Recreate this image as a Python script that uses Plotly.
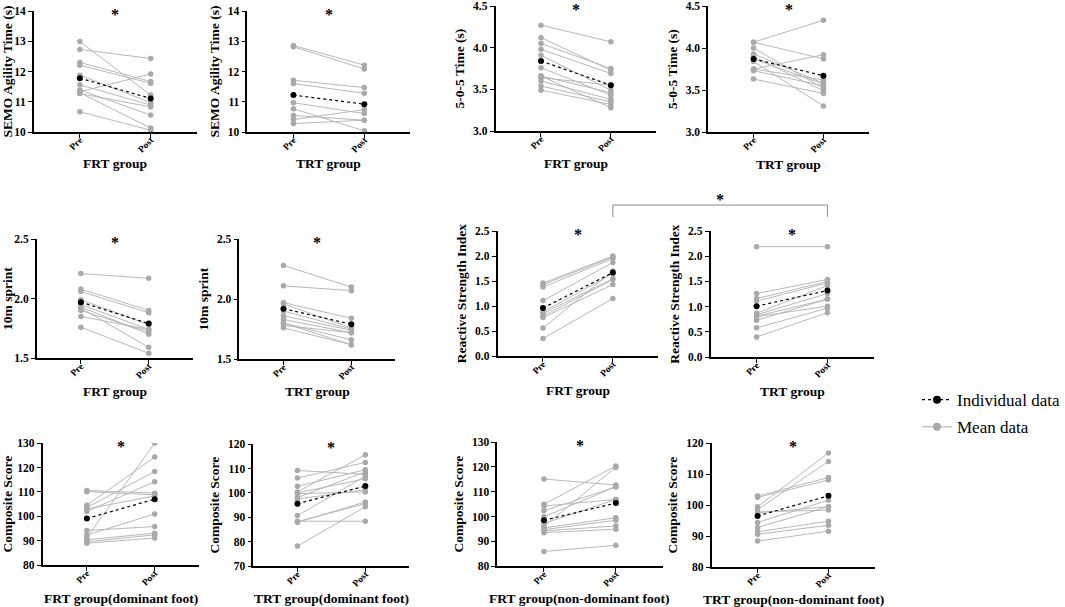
import plotly.graph_objects as go

times = ["Pre", "Post"]

# SEMO agility time (s)
semo_frt_pre = [12.99, 12.73, 12.30, 12.21, 11.88, 11.56, 11.39, 11.33, 11.30, 11.27, 10.67]
semo_frt_post = [11.22, 12.43, 11.67, 11.61, 10.97, 10.89, 10.56, 11.92, 10.13, 10.83, 10.06]
semo_frt_mean = [11.78, 11.11]
semo_trt_pre = [12.86, 12.82, 11.71, 11.60, 10.97, 10.77, 10.55, 10.41, 10.28]
semo_trt_post = [12.21, 12.08, 11.47, 11.28, 10.61, 10.04, 10.39, 10.74, 10.39]
semo_trt_mean = [11.22, 10.92]

# 5-0-5 time (s)
t505_frt_pre = [4.27, 4.12, 4.05, 3.98, 3.91, 3.76, 3.66, 3.64, 3.60, 3.54, 3.49, 3.66]
t505_frt_post = [4.07, 3.73, 3.75, 3.69, 3.49, 3.43, 3.46, 3.55, 3.38, 3.35, 3.32, 3.28]
t505_frt_mean = [3.84, 3.55]
t505_trt_pre = [4.07, 4.07, 4.00, 3.93, 3.90, 3.84, 3.75, 3.73, 3.75, 3.63, 3.87]
t505_trt_post = [4.33, 3.87, 3.52, 3.58, 3.49, 3.31, 3.92, 3.55, 3.62, 3.46, 3.57]
t505_trt_mean = [3.87, 3.67]

# 10 m sprint
sprint_frt_pre = [2.21, 2.08, 2.06, 1.99, 1.95, 1.92, 1.90, 1.85, 1.93, 1.76]
sprint_frt_post = [2.17, 1.90, 1.88, 1.78, 1.74, 1.59, 1.72, 1.74, 1.70, 1.54]
sprint_frt_mean = [1.97, 1.79]
sprint_trt_pre = [2.28, 2.11, 1.97, 1.96, 1.90, 1.86, 1.83, 1.80, 1.78, 1.76, 1.80]
sprint_trt_post = [2.10, 2.07, 1.84, 1.76, 1.75, 1.74, 1.72, 1.66, 1.72, 1.62, 1.62]
sprint_trt_mean = [1.92, 1.79]

# Reactive strength index
rsi_frt_pre = [1.46, 1.43, 1.38, 1.11, 0.88, 0.85, 0.80, 0.77, 0.56, 0.35]
rsi_frt_post = [2.00, 1.98, 1.95, 1.87, 1.65, 1.55, 1.53, 1.43, 1.70, 1.15]
rsi_frt_mean = [0.96, 1.67]
rsi_trt_pre = [2.19, 1.26, 1.16, 1.11, 0.87, 0.84, 0.81, 0.73, 0.58, 0.40, 0.80]
rsi_trt_post = [2.19, 1.54, 1.50, 1.47, 1.42, 1.26, 1.15, 1.15, 0.97, 0.88, 1.01]
rsi_trt_mean = [1.01, 1.32]

# Composite score
cs_frt_dom_pre = [110.6, 110.1, 104.5, 103.6, 103.0, 102.0, 91.3, 94.2, 92.3, 90.4, 89.6, 89.0]
cs_frt_dom_post = [109.5, 108.8, 124.3, 118.4, 108.4, 114.2, 130.0, 95.8, 101.0, 93.1, 92.4, 91.1]
cs_frt_dom_mean = [99.1, 107.0]
cs_trt_dom_pre = [109.2, 106.1, 102.7, 100.4, 99.7, 98.1, 90.7, 88.4, 88.0, 78.2, 97.5, 100.0, 88.2]
cs_trt_dom_post = [107.6, 112.5, 109.5, 115.6, 100.4, 108.6, 106.8, 88.4, 96.3, 94.3, 101.3, 105.8, 95.6]
cs_trt_dom_mean = [95.6, 102.8]
cs_frt_nd_pre = [115.1, 104.9, 104.2, 102.3, 99.9, 96.0, 97.2, 95.4, 94.7, 94.2, 93.5, 85.9]
cs_frt_nd_post = [112.7, 120.4, 106.9, 112.0, 112.0, 119.9, 106.9, 99.5, 98.5, 96.2, 94.9, 88.4]
cs_frt_nd_mean = [98.5, 105.4]
cs_trt_nd_pre = [102.9, 102.5, 99.5, 98.6, 97.8, 94.4, 92.8, 91.4, 90.6, 88.4, 97.5]
cs_trt_nd_post = [108.9, 108.1, 116.8, 114.1, 98.4, 101.6, 99.5, 94.8, 93.5, 91.6, 99.5]
cs_trt_nd_mean = [96.5, 103.0]

panels = [
    (semo_frt_pre, semo_frt_post, semo_frt_mean, "SEMO Agility Time (s)", "FRT group", [10, 14], 1),
    (semo_trt_pre, semo_trt_post, semo_trt_mean, "SEMO Agility Time (s)", "TRT group", [10, 14], 1),
    (t505_frt_pre, t505_frt_post, t505_frt_mean, "5-0-5 Time (s)", "FRT group", [3, 4.5], 0.5),
    (t505_trt_pre, t505_trt_post, t505_trt_mean, "5-0-5 Time (s)", "TRT group", [3, 4.5], 0.5),
    (sprint_frt_pre, sprint_frt_post, sprint_frt_mean, "10m sprint", "FRT group", [1.5, 2.5], 0.5),
    (sprint_trt_pre, sprint_trt_post, sprint_trt_mean, "10m sprint", "TRT group", [1.5, 2.5], 0.5),
    (rsi_frt_pre, rsi_frt_post, rsi_frt_mean, "Reactive Strength Index", "FRT group", [0, 2.5], 0.5),
    (rsi_trt_pre, rsi_trt_post, rsi_trt_mean, "Reactive Strength Index", "TRT group", [0, 2.5], 0.5),
    (cs_frt_dom_pre, cs_frt_dom_post, cs_frt_dom_mean, "Composite Score", "FRT group(dominant foot)", [80, 130], 10),
    (cs_trt_dom_pre, cs_trt_dom_post, cs_trt_dom_mean, "Composite Score", "TRT group(dominant foot)", [70, 120], 10),
    (cs_frt_nd_pre, cs_frt_nd_post, cs_frt_nd_mean, "Composite Score", "FRT group(non-dominant foot)", [80, 130], 10),
    (cs_trt_nd_pre, cs_trt_nd_post, cs_trt_nd_mean, "Composite Score", "TRT group(non-dominant foot)", [80, 120], 10),
]

# pixel layout: pre x, post x, top y, bottom y, x-title y
boxes = [
    (79, 150, 11, 132, 163), (293, 364, 11, 132, 163), (541, 611, 6, 131, 163), (754, 824, 6, 132, 164),
    (80, 148, 239, 358, 391), (283, 351, 239, 359, 391), (543, 613, 231, 356, 390), (757, 828, 231, 357, 391),
    (86, 154, 443, 565, 598), (297, 365, 444, 566, 598), (544, 616, 442, 566, 598), (758, 829, 443, 567, 599),
]

W, H = 1065, 607
PAD = 0.65
FONT = '"Liberation Serif", "Times New Roman", serif'
GREY = "#a9a9a9"
LINE_GREY = "#b8b8b8"


def py(y):
    # pixel row -> paper y (small correction for how the page gets photographed)
    return 1 - ((y - 6) / 0.98) / H


fig = go.Figure()
layout = {}
annotations = []

for i, (pre, post, mean, ytitle, xtitle, yr, dt) in enumerate(panels):
    n = i + 1
    sfx = "" if n == 1 else str(n)
    px0, px1, top, bot, ty = boxes[i]
    u = px1 - px0
    dom = [(px0 - PAD * u) / W, (px1 + PAD * u) / W]
    ydom = [py(bot), min(1, py(top))]

    for a, b in zip(pre, post):
        fig.add_trace(go.Scatter(
            x=times, y=[a, b], mode="lines+markers", xaxis="x" + sfx, yaxis="y" + sfx,
            line=dict(color=LINE_GREY, width=1), marker=dict(color=GREY, size=5.5),
            showlegend=False, hoverinfo="y"))
    fig.add_trace(go.Scatter(
        x=times, y=mean, mode="lines+markers", xaxis="x" + sfx, yaxis="y" + sfx,
        line=dict(color="black", width=1.2, dash="dot"), marker=dict(color="black", size=6),
        showlegend=False, hoverinfo="y"))

    layout["xaxis" + sfx] = dict(
        domain=dom, anchor="y" + sfx, type="category", range=[-PAD, 1 + PAD],
        showline=True, linecolor="black", linewidth=1.6, ticks="outside", ticklen=4,
        tickcolor="black", tickangle=-45, showgrid=False, zeroline=False,
        ticklabelstandoff=-7,
        tickfont=dict(family=FONT, size=9.5, color="black", weight="bold"))
    layout["yaxis" + sfx] = dict(
        domain=ydom, anchor="x" + sfx, range=yr, dtick=dt,
        tickformat="d" if dt >= 1 else ".1f",
        showline=True, linecolor="black", linewidth=1.6, ticks="outside", ticklen=4,
        tickcolor="black", showgrid=False, zeroline=False,
        tickfont=dict(family=FONT, size=11.5, color="black", weight="bold"),
        title=dict(text=ytitle, standoff=5,
                   font=dict(family=FONT, size=13.5, color="black", weight="bold")))
    annotations.append(dict(
        x=0.5, y=0.97, xref="x" + sfx, yref="y" + sfx + " domain", text="*",
        xanchor="center", yanchor="middle", showarrow=False,
        font=dict(family=FONT, size=16, color="black", weight="bold")))
    annotations.append(dict(
        x=0.5, y=py(ty), xref="x" + sfx, yref="paper", text=xtitle,
        xanchor="center", yanchor="middle", showarrow=False,
        font=dict(family=FONT, size=13.5, color="black", weight="bold")))

# bracket between RSI post values
bx0, bx1, by_top, by_bot = 613 / W, 828 / W, py(205), py(217)
for (x0, y0, x1, y1) in [(bx0, by_bot, bx0, by_top), (bx0, by_top, bx1, by_top), (bx1, by_top, bx1, by_bot)]:
    fig.add_shape(type="line", xref="paper", yref="paper", x0=x0, y0=y0, x1=x1, y1=y1,
                  line=dict(color="#8c8c8c", width=1))
annotations.append(dict(x=720 / W, y=py(199), xref="paper", yref="paper", text="*",
                        xanchor="center", yanchor="middle", showarrow=False,
                        font=dict(family=FONT, size=16, color="black", weight="bold")))

# legend entries
fig.add_trace(go.Scatter(x=[None], y=[None], mode="lines+markers", name="Individual data",
                         legendgroup="ind", line=dict(color="black", width=1.2, dash="dot"),
                         marker=dict(color="black", size=8)))
fig.add_trace(go.Scatter(x=[None], y=[None], mode="lines+markers", name="Mean data",
                         legendgroup="mean", line=dict(color=LINE_GREY, width=1.2),
                         marker=dict(color=GREY, size=8)))

fig.update_layout(
    **layout,
    annotations=annotations,
    width=W, height=H,
    margin=dict(l=0, r=0, t=0, b=0),
    paper_bgcolor="white", plot_bgcolor="white",
    showlegend=True,
    legend=dict(x=918 / W, y=py(382), xanchor="left", yanchor="top", tracegroupgap=2,
                font=dict(family=FONT, size=17, color="black"), bgcolor="rgba(0,0,0,0)"),
)

fig.write_html("out.html", config={"displayModeBar": False},
               post_script="document.body.style.margin='0';document.body.style.overflow='hidden';")
